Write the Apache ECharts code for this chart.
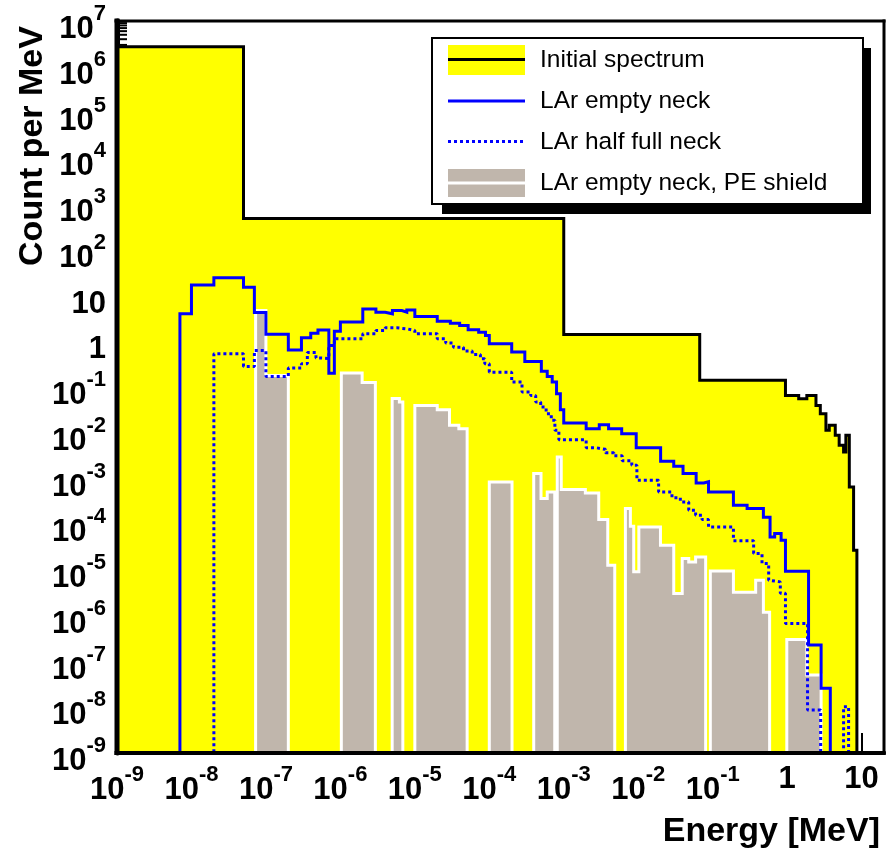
<!DOCTYPE html>
<html><head><meta charset="utf-8">
<script src="https://cdn.jsdelivr.net/npm/echarts@6/dist/echarts.min.js"></script>
<style>html,body{margin:0;padding:0;background:#fff}#c{width:890px;height:849px}</style>
</head><body><div id="c"></div>
<script>
// ---------- data (energy bin edges in MeV, counts per MeV) ----------
const xTickLabels = ['10^-9','10^-8','10^-7','10^-6','10^-5','10^-4','10^-3','10^-2','10^-1','1','10'];
const yTickLabels = ['10^-9','10^-8','10^-7','10^-6','10^-5','10^-4','10^-3','10^-2','10^-1','1','10','10^2','10^3','10^4','10^5','10^6','10^7'];

const initEdges  = [1e-9, 5e-8, 1e-3, 0.067, 0.95, 1.43, 1.84, 2.44, 2.79, 3.32, 3.68, 4.43, 5.0, 5.73, 6.15, 6.84, 7.81, 8.65];
const initValues = [2.75e6, 480, 1.4, 0.14, 0.0656, 0.0556, 0.0656, 0.0396, 0.0261, 0.0113, 0.0145, 0.00877, 0.0053, 0.0038, 0.00877, 6.5e-4, 2.7e-5];

const emptyEdges  = [7e-9, 1e-8, 2e-8, 5e-8, 7e-8, 1e-7, 2e-7, 3e-7, 4e-7, 5e-7, 7e-7, 8.3e-7, 1e-6, 2e-6, 3e-6, 4e-6, 5e-6, 6.7e-6, 7.8e-6, 1e-5, 2e-5, 3e-5, 4e-5, 5.2e-5, 7.2e-5, 8.9e-5, 1e-4, 2e-4, 3e-4, 5e-4, 6e-4, 7e-4, 8e-4, 9e-4, 1e-3, 2e-3, 3e-3, 4e-3, 6e-3, 9.4e-3, 2e-2, 3e-2, 4e-2, 6e-2, 7.6e-2, 8.8e-2, 0.19, 0.29, 0.48, 0.59, 0.68, 0.83, 0.95, 1.94, 2.86, 3.8];
const emptyValues = [4.0, 16.9, 24.3, 15.2, 4.25, 1.42, 0.64, 1.19, 1.50, 1.76, 0.20, 1.66, 2.65, 5.1, 4.32, 3.98, 4.70, 4.32, 4.82, 3.48, 2.75, 2.48, 2.21, 1.78, 1.58, 1.34, 0.88, 0.58, 0.36, 0.22, 0.17, 0.128, 0.0715, 0.0319, 0.0163, 0.0123, 0.0149, 0.0123, 0.00955, 0.00468, 0.00237, 0.00185, 0.00128, 7.97e-4, 8.5e-4, 5.07e-4, 2.6e-4, 2.2e-4, 1.42e-4, 5.28e-5, 6.27e-5, 4.47e-5, 9.4e-6, 2.28e-7, 2.6e-8];

const halfEdges  = [2e-8, 5e-8, 7e-8, 1e-7, 2e-7, 3e-7, 3.6e-7, 4.7e-7, 5.6e-7, 7e-7, 8.3e-7, 1e-6, 2e-6, 3e-6, 4e-6, 5.7e-6, 7.9e-6, 1e-5, 2e-5, 2.6e-5, 3.3e-5, 4.5e-5, 5.9e-5, 7.6e-5, 8.7e-5, 1e-4, 2e-4, 2.75e-4, 3.6e-4, 4.2e-4, 4.9e-4, 5.8e-4, 6.8e-4, 7.6e-4, 8.6e-4, 2e-3, 2.66e-3, 3.63e-3, 4.7e-3, 6.1e-3, 8.2e-3, 9.6e-3, 1.88e-2, 2.84e-2, 3.68e-2, 4.77e-2, 5.9e-2, 7.2e-2, 8.8e-2, 0.19, 0.355, 0.46, 0.565, 0.60, 0.81, 0.95, 1.88, 2.82, 5.73, 6.69];
const halfValues = [0.533, 0.282, 0.63, 0.170, 0.261, 0.323, 0.57, 0.43, 0.42, 0.81, 1.13, 1.13, 1.46, 1.72, 1.97, 1.86, 1.72, 1.46, 1.13, 0.91, 0.74, 0.61, 0.515, 0.415, 0.323, 0.211, 0.128, 0.0775, 0.0656, 0.0468, 0.0364, 0.0261, 0.0187, 0.0113, 0.00706, 0.00473, 0.00434, 0.00364, 0.00313, 0.00243, 0.00194, 9.1e-4, 5.07e-4, 3.79e-4, 3.07e-4, 2.02e-4, 1.57e-4, 1.27e-4, 8.7e-5, 4.36e-5, 2.29e-5, 1.39e-5, 5.98e-6, 5.5e-6, 3.11e-6, 6.8e-7, 8.7e-9, 0, 1.03e-8];

const peEdges  = [7.27e-8, 1e-7, 2e-7, 1.03e-6, 1.96e-6, 2.95e-6, 4.96e-6, 6.2e-6, 6.9e-6, 1e-5, 2e-5, 2.92e-5, 3.9e-5, 5.04e-5, 1e-4, 2.02e-4, 3.95e-4, 4.95e-4, 6e-4, 7.57e-4, 8.18e-4, 9.25e-4, 1.95e-3, 2.95e-3, 3.9e-3, 4.84e-3, 6.73e-3, 7.85e-3, 8.7e-3, 1.02e-2, 1.99e-2, 3e-2, 3.9e-2, 4.77e-2, 5.9e-2, 8.05e-2, 9.3e-2, 0.19, 0.378, 0.48, 0.582, 0.99, 1.84, 2.86];
const peValues = [4.70, 0.179, 0, 0.203, 0.126, 0, 0.0564, 0.0468, 0, 0.0396, 0.0319, 0.0145, 0.0123, 0, 8.39e-4, 0, 1.28e-3, 3.64e-4, 5.07e-4, 0, 2.95e-3, 5.73e-4, 4.83e-4, 1.27e-4, 1.27e-5, 0, 2.2e-4, 9.0e-5, 9.1e-6, 8.7e-5, 3.48e-5, 3.07e-6, 1.78e-5, 1.50e-5, 1.93e-5, 0, 9.55e-6, 3.27e-6, 5.98e-6, 1.2e-6, 0, 3.04e-7, 5.05e-8];

const minorMantissas = [2, 3, 4, 5, 6, 7, 8, 9];
const minorDecades = [1e6];

const seriesNames = ['Initial spectrum', 'LAr empty neck', 'LAr half full neck', 'LAr empty neck, PE shield'];

// ---------- helpers ----------
const X_MIN = 1e-9, X_MAX = 20, Y_MIN = 1e-9, Y_MAX = 1e7;
const FLOOR = 1e-12; // empty bins (below the axis, clipped)
const FONT = '"Liberation Sans", Arial, Helvetica, sans-serif';

function stepData(edges, values) {
  const d = [[edges[0], FLOOR]];
  for (let i = 0; i < values.length; i++) d.push([edges[i], values[i] > 0 ? values[i] : FLOOR]);
  d.push([edges[edges.length - 1], FLOOR]);
  return d;
}
function richLabel(s) {
  const m = s.split('^');
  return m.length === 1 ? '{b|' + m[0] + '}' : '{b|' + m[0] + '}{s|' + m[1] + '}';
}
function tickFormatter(labels, minExp) {
  return function (v) {
    const l = Math.log10(v), e = Math.round(l);
    if (Math.abs(l - e) > 1e-6) return '';
    const s = labels[e - minExp];
    return s === undefined ? '' : richLabel(s);
  };
}
const minorTicks = [];
minorDecades.forEach(d => minorMantissas.forEach(m => minorTicks.push([X_MIN, m * d])));

const chart = echarts.init(document.getElementById('c'), null, {renderer: 'canvas'});
chart.setOption({
  animation: false,
  backgroundColor: '#fff',
  grid: {left: 117, right: 6, top: 21, bottom: 96, containLabel: false},
  xAxis: {
    type: 'log', logBase: 10, min: X_MIN, max: X_MAX, interval: 1, splitNumber: 10,
    axisLine: {show: true, lineStyle: {color: '#000', width: 4}},
    axisTick: {show: true, inside: true, length: 20, lineStyle: {color: '#000', width: 2}},
    splitLine: {show: false}, minorTick: {show: false},
    axisLabel: {
      margin: 11, showMaxLabel: false, formatter: tickFormatter(xTickLabels, -9),
      rich: {
        b: {fontSize: 31, fontWeight: 'bold', fontFamily: FONT, color: '#000'},
        s: {fontSize: 22, fontWeight: 'bold', fontFamily: FONT, color: '#000', padding: [0, 0, 30, 0]}
      }
    }
  },
  yAxis: {
    type: 'log', logBase: 10, min: Y_MIN, max: Y_MAX, interval: 1, splitNumber: 16,
    axisLine: {show: true, lineStyle: {color: '#000', width: 5}},
    axisTick: {show: true, inside: true, length: 18, lineStyle: {color: '#000', width: 2}},
    splitLine: {show: false}, minorTick: {show: false},
    axisLabel: {
      margin: 11, formatter: tickFormatter(yTickLabels, -9),
      rich: {
        b: {fontSize: 31, fontWeight: 'bold', fontFamily: FONT, color: '#000', padding: [17, 0, 0, 0]},
        s: {fontSize: 22, fontWeight: 'bold', fontFamily: FONT, color: '#000', padding: [0, 0, 14, 0]}
      }
    }
  },
  series: [
    {
      name: 'minor ticks', type: 'custom', z: 1, silent: true,
      data: minorTicks,
      renderItem: function (params, api) {
        const p = api.coord([api.value(0), api.value(1)]);
        return {type: 'line', shape: {x1: p[0], y1: p[1], x2: p[0] + 10, y2: p[1]}, style: {stroke: '#000', lineWidth: 2}};
      }
    },
    {
      name: seriesNames[0], type: 'line', step: 'end', symbol: 'none', clip: true, z: 2, silent: true,
      data: stepData(initEdges, initValues),
      lineStyle: {color: '#000', width: 3, join: 'miter'},
      areaStyle: {color: '#ffff00', opacity: 1, origin: 'start'}
    },
    {
      name: seriesNames[3], type: 'line', step: 'end', symbol: 'none', clip: true, z: 2, silent: true,
      data: stepData(peEdges, peValues),
      lineStyle: {color: '#fff', width: 3, join: 'miter'},
      areaStyle: {color: '#c0b6ac', opacity: 1, origin: 'start'}
    },
    {
      name: seriesNames[1], type: 'line', step: 'end', symbol: 'none', clip: true, z: 2, silent: true,
      data: stepData(emptyEdges, emptyValues),
      lineStyle: {color: '#0000ff', width: 3, join: 'miter'}
    },
    {
      name: seriesNames[2], type: 'line', step: 'end', symbol: 'none', clip: true, z: 2, silent: true,
      data: stepData(halfEdges, halfValues),
      lineStyle: {color: '#0000ff', width: 3, type: [3, 3], cap: 'butt'}
    }
  ],
  graphic: [
    // frame drawn over the histograms
    {type: 'line', z: 200, shape: {x1: 117, y1: 18.5, x2: 117, y2: 755}, style: {stroke: '#000', lineWidth: 5}},
    {type: 'line', z: 200, shape: {x1: 114.5, y1: 753, x2: 885.5, y2: 753}, style: {stroke: '#000', lineWidth: 4}},
    {type: 'line', z: 200, shape: {x1: 114.5, y1: 21, x2: 885.5, y2: 21}, style: {stroke: '#000', lineWidth: 3}},
    {type: 'line', z: 200, shape: {x1: 884, y1: 19.5, x2: 884, y2: 755}, style: {stroke: '#000', lineWidth: 3}},
    // legend
    {type: 'rect', z: 210, shape: {x: 442, y: 48, width: 429, height: 166}, style: {fill: '#000'}},
    {type: 'rect', z: 211, shape: {x: 432, y: 38, width: 431, height: 166}, style: {fill: '#fff', stroke: '#000', lineWidth: 2}},
    {type: 'rect', z: 212, shape: {x: 448, y: 45, width: 77, height: 30}, style: {fill: '#ffff00'}},
    {type: 'line', z: 213, shape: {x1: 448, y1: 59.5, x2: 525, y2: 59.5}, style: {stroke: '#000', lineWidth: 3}},
    {type: 'line', z: 213, shape: {x1: 448, y1: 101, x2: 525, y2: 101}, style: {stroke: '#0000ff', lineWidth: 3}},
    {type: 'line', z: 213, shape: {x1: 448, y1: 141.5, x2: 523, y2: 141.5}, style: {stroke: '#0000ff', lineWidth: 3, lineDash: [3, 3]}},
    {type: 'rect', z: 212, shape: {x: 448, y: 169, width: 77, height: 28}, style: {fill: '#c0b6ac'}},
    {type: 'line', z: 213, shape: {x1: 448, y1: 183, x2: 525, y2: 183}, style: {stroke: '#fff', lineWidth: 3}},
    {type: 'text', z: 214, x: 540, y: 60, style: {text: seriesNames[0], font: '24.5px ' + FONT, fill: '#000', verticalAlign: 'middle'}},
    {type: 'text', z: 214, x: 540, y: 101, style: {text: seriesNames[1], font: '24.5px ' + FONT, fill: '#000', verticalAlign: 'middle'}},
    {type: 'text', z: 214, x: 540, y: 142, style: {text: seriesNames[2], font: '24.5px ' + FONT, fill: '#000', verticalAlign: 'middle'}},
    {type: 'text', z: 214, x: 540, y: 183, style: {text: seriesNames[3], font: '24.5px ' + FONT, fill: '#000', verticalAlign: 'middle'}},
    // axis titles
    {type: 'text', z: 214, x: 880, y: 832, style: {text: 'Energy [MeV]', font: 'bold 34px ' + FONT, fill: '#000', align: 'right', verticalAlign: 'middle'}},
    {type: 'text', z: 214, x: 33, y: 146, rotation: Math.PI / 2, style: {text: 'Count per MeV', font: 'bold 34px ' + FONT, fill: '#000', align: 'center', verticalAlign: 'middle'}}
  ]
});
</script>
</body></html>
